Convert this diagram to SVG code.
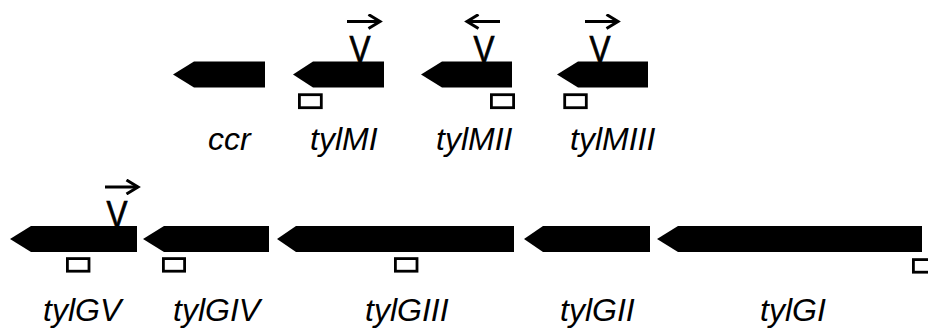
<svg xmlns="http://www.w3.org/2000/svg" width="928" height="329" viewBox="0 0 928 329">
  <style>
    .gene { fill: #000; }
    .probe { fill: #fff; stroke: #000; stroke-width: 2.8; }
    .label { font-family: "Liberation Sans", Arial, Helvetica, sans-serif; font-style: italic; font-size: 32px; fill: #000; }
    .ins { font-family: "Liberation Sans", Arial, Helvetica, sans-serif; font-size: 37px; fill: #000; stroke: #000; stroke-width: 0.7; }
    .dir { fill: none; stroke: #000; stroke-width: 3; }
  </style>
  <defs>
    <marker id="chev" viewBox="0 0 16 16" refX="13" refY="8" markerWidth="16" markerHeight="16" markerUnits="userSpaceOnUse" orient="auto">
      <polyline points="1.5,1 13,8 1.5,15" fill="none" stroke="#000" stroke-width="3"/>
    </marker>
  </defs>

  <rect width="928" height="329" fill="#fff"/>

  <!-- upper row: ccr and the tylM genes -->
  <g id="ccr">
    <polygon class="gene" points="173,74.5 194,61.5 265,61.5 265,87.5 194,87.5"/>
    <text class="label" x="208" y="150">ccr</text>
  </g>
  <g id="tylMI">
    <polygon class="gene" points="293,74.5 313,61.5 384,61.5 384,87.5 313,87.5"/>
    <rect class="probe" x="299.4" y="94.7" width="21.9" height="13"/>
    <text class="ins" x="349.5" y="62" textLength="21" lengthAdjust="spacingAndGlyphs">V</text>
    <line class="dir" x1="347" y1="21.5" x2="380" y2="21.5" marker-end="url(#chev)"/>
    <text class="label" x="310" y="150">tylMI</text>
  </g>
  <g id="tylMII">
    <polygon class="gene" points="421,74.5 442,61.5 512,61.5 512,87.5 442,87.5"/>
    <rect class="probe" x="491.4" y="94.7" width="22.2" height="13"/>
    <text class="ins" x="473.5" y="62" textLength="21" lengthAdjust="spacingAndGlyphs">V</text>
    <line class="dir" x1="500" y1="21.5" x2="467" y2="21.5" marker-end="url(#chev)"/>
    <text class="label" x="436" y="150">tylMII</text>
  </g>
  <g id="tylMIII">
    <polygon class="gene" points="557,74.5 578,61.5 648,61.5 648,87.5 578,87.5"/>
    <rect class="probe" x="564.7" y="94.7" width="21.6" height="13"/>
    <text class="ins" x="589.5" y="62" textLength="21" lengthAdjust="spacingAndGlyphs">V</text>
    <line class="dir" x1="585" y1="21.5" x2="618" y2="21.5" marker-end="url(#chev)"/>
    <text class="label" x="570" y="150">tylMIII</text>
  </g>

  <!-- lower row: the tylG genes -->
  <g id="tylGV">
    <polygon class="gene" points="10,239 31,226 137,226 137,252 31,252"/>
    <rect class="probe" x="67.4" y="258.6" width="21.6" height="12.6"/>
    <text class="ins" x="106.5" y="226.5" textLength="21" lengthAdjust="spacingAndGlyphs">V</text>
    <line class="dir" x1="105" y1="187" x2="138" y2="187" marker-end="url(#chev)"/>
    <text class="label" x="43" y="321">tylGV</text>
  </g>
  <g id="tylGIV">
    <polygon class="gene" points="143,239 164,226 269,226 269,252 164,252"/>
    <rect class="probe" x="163.4" y="258.6" width="21.2" height="12.6"/>
    <text class="label" x="173" y="321">tylGIV</text>
  </g>
  <g id="tylGIII">
    <polygon class="gene" points="277,239 296,226 514,226 514,252 296,252"/>
    <rect class="probe" x="395.4" y="258.6" width="21.6" height="12.6"/>
    <text class="label" x="365" y="321">tylGIII</text>
  </g>
  <g id="tylGII">
    <polygon class="gene" points="524,239 543,226 650,226 650,252 543,252"/>
    <text class="label" x="560" y="321">tylGII</text>
  </g>
  <g id="tylGI">
    <polygon class="gene" points="657,239 678,226 922,226 922,252 678,252"/>
    <rect class="probe" x="913.4" y="259.6" width="21.6" height="12.6"/>
    <text class="label" x="760" y="321">tylGI</text>
  </g>

  <!-- no connectors between genes -->
  <g id="connectors"></g>
</svg>
